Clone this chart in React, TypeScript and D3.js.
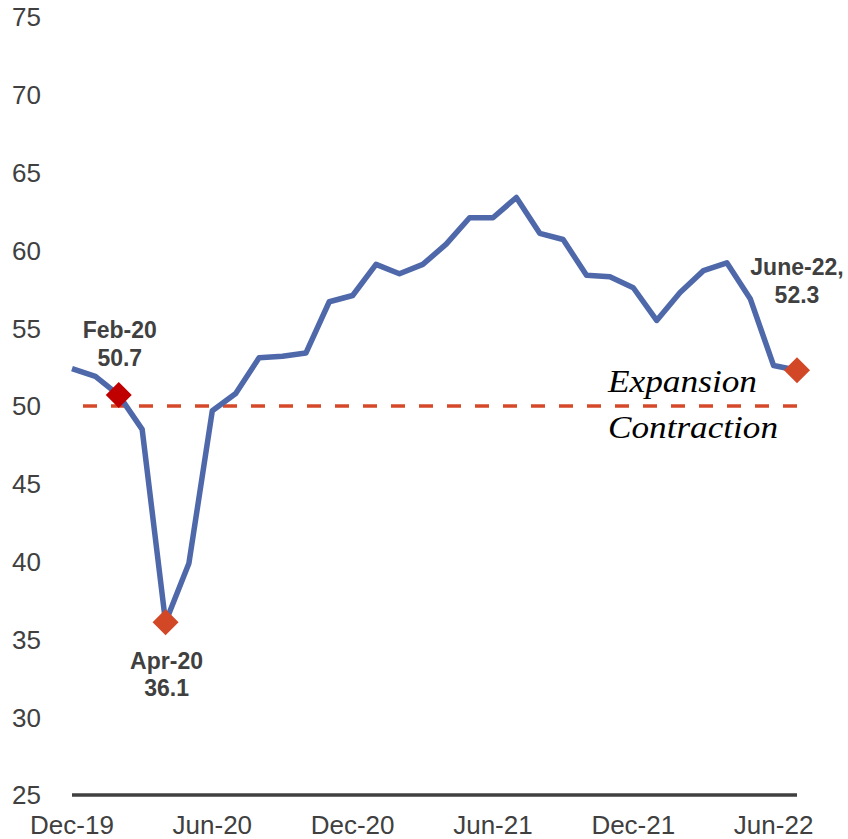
import React from "react";
import * as d3 from "d3";

const months: string[] = [
  "Dec-19", "Jan-20", "Feb-20", "Mar-20", "Apr-20", "May-20", "Jun-20", "Jul-20",
  "Aug-20", "Sep-20", "Oct-20", "Nov-20", "Dec-20", "Jan-21", "Feb-21", "Mar-21",
  "Apr-21", "May-21", "Jun-21", "Jul-21", "Aug-21", "Sep-21", "Oct-21", "Nov-21",
  "Dec-21", "Jan-22", "Feb-22", "Mar-22", "Apr-22", "May-22", "Jun-22", "Jul-22",
];
const values: number[] = [
  52.4, 51.9, 50.7, 48.5, 36.1, 39.9, 49.7, 50.8, 53.1, 53.2, 53.4, 56.7, 57.1, 59.1, 58.5, 59.1,
  60.4, 62.1, 62.1, 63.4, 61.1, 60.7, 58.4, 58.3, 57.6, 55.5, 57.3, 58.7, 59.2, 56.9, 52.6, 52.3,
];
const yTicks: number[] = [25, 30, 35, 40, 45, 50, 55, 60, 65, 70, 75];
const xTickLabels: string[] = ["Dec-19", "Jun-20", "Dec-20", "Jun-21", "Dec-21", "Jun-22"];
const threshold = 50;

type Marker = { idx: number; line1: string; line2: string; color: string; pos: "above" | "below" | "aboveRight" };
const markers: Marker[] = [
  { idx: 2, line1: "Feb-20", line2: "50.7", color: "#C00000", pos: "above" },
  { idx: 4, line1: "Apr-20", line2: "36.1", color: "#D24726", pos: "below" },
  { idx: 31, line1: "June-22,", line2: "52.3", color: "#D24726", pos: "aboveRight" },
];

const W = 848;
const H = 839;
const sans = "'Liberation Sans', Arial, sans-serif";
const serif = "'Liberation Serif', 'Times New Roman', serif";
const textColor = "#404040";

export default function App() {
  const x = d3.scalePoint<string>().domain(months).range([72, 797]);
  const y = d3.scaleLinear().domain([25, 75]).range([795, 17]);
  const line = d3
    .line<number>()
    .x((_, i) => x(months[i]) as number)
    .y((d) => y(d));

  const diamond = (cx: number, cy: number, r: number) =>
    `M${cx},${cy - r}L${cx + r},${cy}L${cx},${cy + r}L${cx - r},${cy}Z`;

  return (
    <svg width={W} height={H} style={{ position: "absolute", left: 0, top: 0, background: "#fff" }}>
      {yTicks.map((t) => (
        <text key={t} x={41} y={y(t)} dy="0.36em" textAnchor="end" fontFamily={sans} fontSize={26} fill={textColor}>
          {t}
        </text>
      ))}
      <line x1={x(months[0])} x2={x(months[months.length - 1])} y1={y(25)} y2={y(25)} stroke={textColor} strokeWidth={3.5} />
      {xTickLabels.map((m) => (
        <text key={m} x={x(m)} y={834} textAnchor="middle" fontFamily={sans} fontSize={26} fill={textColor}>
          {m}
        </text>
      ))}
      <line x1={83} x2={798} y1={y(threshold)} y2={y(threshold)} stroke="#D5492A" strokeWidth={3.5} strokeDasharray="14 14" />
      <path d={line(values) || ""} fill="none" stroke="#4E68AA" strokeWidth={5.5} strokeLinejoin="round" />
      {markers.map((m) => {
        const cx = x(months[m.idx]) as number;
        const cy = y(values[m.idx]);
        return <path key={m.idx} d={diamond(cx, cy, 13)} fill={m.color} />;
      })}
      {markers.map((m) => {
        const cx = x(months[m.idx]) as number;
        const cy = y(values[m.idx]);
        let b1 = cy - 57;
        let b2 = cy - 29;
        let lx = cx + 1;
        if (m.pos === "below") {
          b1 = cy + 47;
          b2 = cy + 74;
        } else if (m.pos === "aboveRight") {
          b1 = cy - 95;
          b2 = cy - 67;
          lx = cx;
        }
        return (
          <g key={"l" + m.idx} fontFamily={sans} fontSize={23} fontWeight="bold" fill={textColor} textAnchor="middle">
            <text x={lx} y={b1}>{m.line1}</text>
            <text x={lx} y={b2}>{m.line2}</text>
          </g>
        );
      })}
      <text x={608} y={392} fontFamily={serif} fontStyle="italic" fontSize={31} fill="#000" textLength={149} lengthAdjust="spacingAndGlyphs">
        Expansion
      </text>
      <text x={608} y={438} fontFamily={serif} fontStyle="italic" fontSize={31} fill="#000" textLength={170} lengthAdjust="spacingAndGlyphs">
        Contraction
      </text>
    </svg>
  );
}
